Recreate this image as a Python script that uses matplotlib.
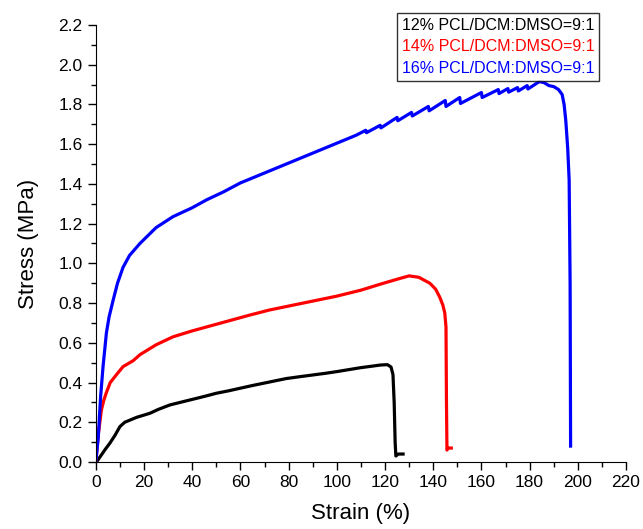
import matplotlib
matplotlib.use("Agg")
import matplotlib.pyplot as plt
from matplotlib.ticker import MultipleLocator, FormatStrFormatter

plt.rcParams['font.family'] = ['Liberation Sans', 'DejaVu Sans']

labels = ["12% PCL/DCM:DMSO=9:1", "14% PCL/DCM:DMSO=9:1", "16% PCL/DCM:DMSO=9:1"]
colors = ["black", "red", "blue"]

# 12 %
strain_12 = [0.3, 2, 4, 5.8, 8, 10, 12, 14, 17, 22.4, 26, 30.7, 35, 39, 45, 50, 55,
             59.8, 65, 69.4, 75, 79, 85, 90, 95, 100, 105, 110, 115, 118, 121, 122.5,
             123.3, 123.8, 124.2, 124.5, 125.5, 127.5]
stress_12 = [0.0, 0.03, 0.065, 0.094, 0.135, 0.178, 0.2, 0.21, 0.225, 0.245, 0.265,
             0.287, 0.30, 0.312, 0.33, 0.346, 0.358, 0.371, 0.385, 0.396, 0.41, 0.42,
             0.43, 0.438, 0.446, 0.455, 0.465, 0.475, 0.483, 0.488, 0.49, 0.478, 0.44,
             0.3, 0.1, 0.03, 0.04, 0.04]

# 14 %
strain_14 = [0, 0.95, 2.3, 3.3, 4.4, 6, 8.6, 11.3, 15.5, 18.3, 25, 32, 40, 46, 55, 64,
             72, 80, 90, 100, 110, 118, 125, 130, 134, 138.6, 141, 142.7, 144, 144.8,
             145.3, 145.5, 145.7, 146.2, 147.5]
stress_14 = [0, 0.13, 0.26, 0.31, 0.35, 0.40, 0.44, 0.48, 0.51, 0.54, 0.59, 0.63,
             0.66, 0.68, 0.71, 0.74, 0.765, 0.785, 0.81, 0.835, 0.865, 0.895, 0.92,
             0.937, 0.93, 0.90, 0.87, 0.83, 0.79, 0.75, 0.68, 0.3, 0.06, 0.07, 0.07]

# 16 %
strain_16 = [0, 1, 2, 3, 4.4, 5.5, 7.2, 9, 11.3, 14, 18.3, 25, 32, 40, 46, 53, 60,
             70, 80, 90, 100, 108, 112, 112.3, 118, 118.3, 125, 125.3, 131, 131.3,
             138, 138.3, 145, 145.3, 151, 151.3, 160, 160.3, 167, 167.3, 171, 171.3,
             175, 175.3, 179, 179.3, 184, 186, 188, 190, 192, 193.5, 194.3, 195, 195.8,
             196.4, 196.8, 197]
stress_16 = [0, 0.12, 0.33, 0.48, 0.65, 0.73, 0.815, 0.9, 0.98, 1.04, 1.10, 1.18,
             1.235, 1.28, 1.32, 1.36, 1.405, 1.455, 1.505, 1.555, 1.605, 1.645, 1.67,
             1.658, 1.695, 1.682, 1.735, 1.718, 1.76, 1.742, 1.79, 1.768, 1.82, 1.79,
             1.835, 1.805, 1.86, 1.835, 1.875, 1.855, 1.88, 1.862, 1.885, 1.868, 1.895,
             1.878, 1.915, 1.91, 1.895, 1.89, 1.875, 1.85, 1.80, 1.72, 1.58, 1.42,
             0.9, 0.08]

series = [(strain_12, stress_12), (strain_14, stress_14), (strain_16, stress_16)]

fig = plt.figure(figsize=(6.43, 5.29), dpi=100)
ax = fig.add_axes([0.149, 0.1267, 0.8246, 0.826])

for (x, y), c, lab in zip(series, colors, labels):
    ax.plot(x, y, color=c, linewidth=2.3, label=lab)

ax.set_xlim(0, 220)
ax.set_ylim(0, 2.2)
ax.xaxis.set_major_locator(MultipleLocator(20))
ax.xaxis.set_minor_locator(MultipleLocator(10))
ax.yaxis.set_major_locator(MultipleLocator(0.2))
ax.yaxis.set_minor_locator(MultipleLocator(0.1))
ax.yaxis.set_major_formatter(FormatStrFormatter('%.1f'))

ax.spines['top'].set_visible(False)
ax.spines['right'].set_visible(False)
ax.tick_params(which='major', direction='out', length=6, width=1, labelsize=12.5)
ax.tick_params(which='minor', direction='out', length=3.5, width=1)

ax.set_xlabel('Strain (%)', fontsize=16, labelpad=9)
ax.set_ylabel('Stress (MPa)', fontsize=16, labelpad=14)

leg = ax.legend(loc='upper right', bbox_to_anchor=(0.949, 1.028), handlelength=0,
                handletextpad=0, fontsize=11.5, frameon=True, fancybox=False,
                borderpad=0.3, labelspacing=0.42, borderaxespad=0)
leg.get_frame().set_edgecolor('black')
leg.get_frame().set_linewidth(1)
for txt, c in zip(leg.get_texts(), colors):
    txt.set_color(c)
for h in leg.legend_handles:
    h.set_visible(False)

plt.savefig('out.png', dpi=100)
